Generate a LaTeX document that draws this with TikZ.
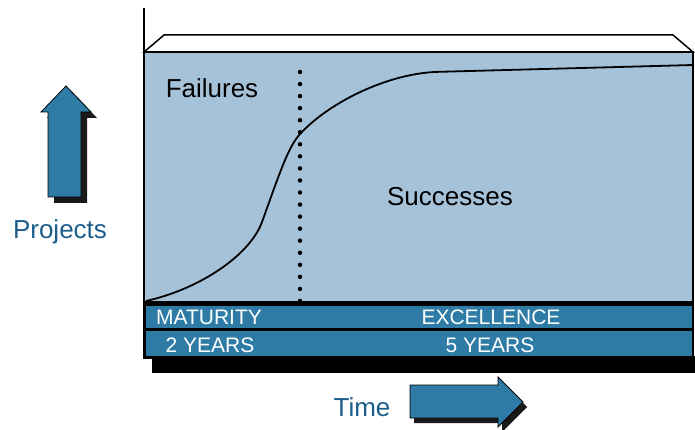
\documentclass[tikz,border=0pt]{standalone}
\usepackage{fontspec}
\setmainfont{Liberation Sans}
\definecolor{lightbl}{HTML}{A6C2D9}
\definecolor{darkbl}{HTML}{2E7CA6}
\definecolor{textbl}{HTML}{1B5E8C}
\begin{document}
\begin{tikzpicture}[x=1pt,y=-1pt,
  bigtext/.style={font=\fontsize{26}{30}\selectfont, inner sep=0pt},
  bandtext/.style={font=\fontsize{21}{24}\selectfont, text=white, inner sep=0pt},
  axislabel/.style={bigtext, text=textbl},
  arrowbody/.style={fill=darkbl, draw=black, line width=0.8pt, line join=miter},
  arrowshadow/.style={fill=black!90}]
\useasboundingbox (0,0) rectangle (695,430);
% axis line
\draw[line width=2pt] (144,8) -- (144,303);
% lid
\draw[fill=white, line width=1.5pt, line join=miter] (144,52) -- (164,35) -- (673,35) -- (693,52) -- cycle;
% main area
\draw[fill=lightbl, line width=1.5pt] (144,52) rectangle (693,302);
% bands
\fill[black] (152,356) rectangle (695,373);
\fill[black] (143,303) rectangle (694,359);
\fill[darkbl] (146,306) rectangle (692,328);
\fill[darkbl] (146,331) rectangle (692,356);
% dotted line
\draw[line width=4.5pt, line cap=round, dash pattern=on 0pt off 12.05pt] (300,72) -- (300,301);
% curve
\draw[line width=1.8pt] (146,301) .. controls (200,289) and (250,255) .. (262,222)
  .. controls (279,175) and (288,147) .. (300,134)
  .. controls (330,101.5) and (390,72.5) .. (440,71.8) -- (693,65);
% texts
\node[bigtext] (fail) at (212,88) {Failures};
\node[bigtext] (succ) at (450,197) {Successes};
\node[bandtext] (mat) at (209,317) {MATURITY};
\node[bandtext] (exc) at (491,317) {EXCELLENCE};
\node[bandtext] (y2) at (210,345) {2 YEARS};
\node[bandtext] (y5) at (490,345) {5 YEARS};
\node[axislabel] (proj) at (60,232) {Projects};
\node[axislabel] (time) at (362,407) {Time};
% up arrow
\fill[arrowshadow] (54,203) -- (54,118) -- (47,118) -- (72,92) -- (97,118) -- (87,118) -- (87,203) -- cycle;
\draw[arrowbody] (48,197) -- (48,112) -- (41,112) -- (66,86) -- (91,112) -- (81,112) -- (81,197) -- cycle;
% right arrow
\fill[arrowshadow] (414,390) -- (502,390) -- (502,382) -- (527,407) -- (502,432) -- (502,423) -- (414,423) -- cycle;
\draw[arrowbody] (410,385) -- (498,385) -- (498,377) -- (523,402) -- (498,427) -- (498,418) -- (410,418) -- cycle;
\end{tikzpicture}
\end{document}
